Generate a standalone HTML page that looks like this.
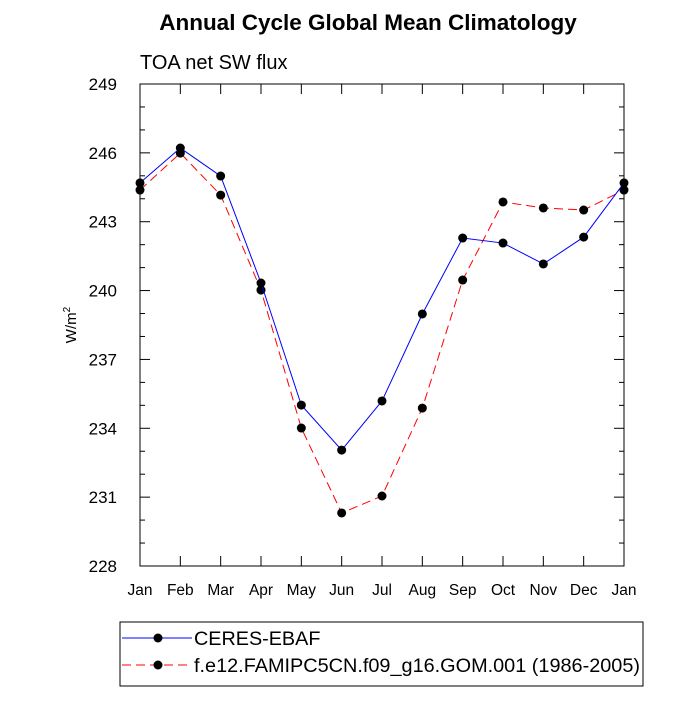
<!DOCTYPE html>
<html><head><meta charset="utf-8"><style>
body{margin:0;background:#fff;}
svg{font-family:"Liberation Sans",sans-serif;}
</style></head><body>
<svg id="chart" width="700" height="700" viewBox="0 0 700 700">
<text x="368" y="30" text-anchor="middle" font-size="22.5" font-weight="bold">Annual Cycle Global Mean Climatology</text>
<text x="140" y="69" font-size="20">TOA net SW flux</text>
<text transform="translate(76,325) rotate(-90)" text-anchor="middle" font-size="15">W/m<tspan dy="-6" font-size="10">2</tspan></text>
<g id="plot"></g>
<g id="legend">
<rect x="120" y="622" width="523" height="64" fill="none" stroke="#000" stroke-width="1"/>
<line x1="122" y1="638" x2="192" y2="638" stroke="#0000ff" stroke-width="1"/>
<circle cx="158" cy="638" r="4.5" fill="#000"/>
<text x="194" y="645" font-size="19.8">CERES-EBAF</text>
<line x1="122" y1="665" x2="192" y2="665" stroke="#ff0000" stroke-width="1" stroke-dasharray="9,5"/>
<circle cx="158" cy="665" r="4.5" fill="#000"/>
<text x="194" y="672" font-size="19.8" textLength="446" lengthAdjust="spacingAndGlyphs">f.e12.FAMIPC5CN.f09_g16.GOM.001 (1986-2005)</text>
</g>
</svg>
<script>
const months=["Jan","Feb","Mar","Apr","May","Jun","Jul","Aug","Sep","Oct","Nov","Dec","Jan"];
const ceres=[244.69,246.21,244.99,240.33,235.01,233.05,235.19,238.98,242.29,242.07,241.16,242.33,244.69];
const model=[244.38,245.99,244.16,240.02,234.01,230.31,231.05,234.88,240.46,243.86,243.60,243.51,244.38];
const yTicks=[228,231,234,237,240,243,246,249];
const L=140,R=624,T=84,B=566,yMin=228,yMax=249;
const xs=i=>L+(R-L)*i/(months.length-1);
const ys=v=>B-(v-yMin)/(yMax-yMin)*(B-T);
const NS="http://www.w3.org/2000/svg";
const g=document.getElementById("plot");
function mk(t,a){const e=document.createElementNS(NS,t);for(const k in a)e.setAttribute(k,a[k]);g.appendChild(e);return e;}
let f=mk("rect",{x:L,y:T,width:R-L,height:B-T,fill:"none",stroke:"#000","stroke-width":1});


for(let v=yMin;v<=yMax;v++){
 const y=ys(v),len=(yTicks.includes(v))?10:5;
 mk("line",{x1:L,y1:y,x2:L+len,y2:y,stroke:"#000"});
 mk("line",{x1:R,y1:y,x2:R-len,y2:y,stroke:"#000"});
}
yTicks.forEach(v=>{
 const t=mk("text",{x:L-23,y:ys(v)+6,"text-anchor":"end","font-size":17});
 t.textContent=v;
 
 
});
months.forEach((m,i)=>{
 const x=xs(i);
 mk("line",{x1:x,y1:B,x2:x,y2:B-10,stroke:"#000"});
 mk("line",{x1:x,y1:T,x2:x,y2:T+10,stroke:"#000"});
 const t=mk("text",{x:x,y:B+29,"text-anchor":"middle","font-size":15.5});
 t.textContent=m;
 
 
});
function series(d,col,dash,name){
 const p=mk("polyline",{points:d.map((v,i)=>xs(i)+","+ys(v)).join(" "),fill:"none",stroke:col,"stroke-width":1,"stroke-dasharray":dash});
 
 
 d.forEach((v,i)=>{
  const c=mk("circle",{cx:xs(i),cy:ys(v),r:4.5,fill:"#000"});
  
  
 });
}
series(model,"#ff0000","9,5","model");
series(ceres,"#0000ff","none","ceres");
</script>
</body></html>
